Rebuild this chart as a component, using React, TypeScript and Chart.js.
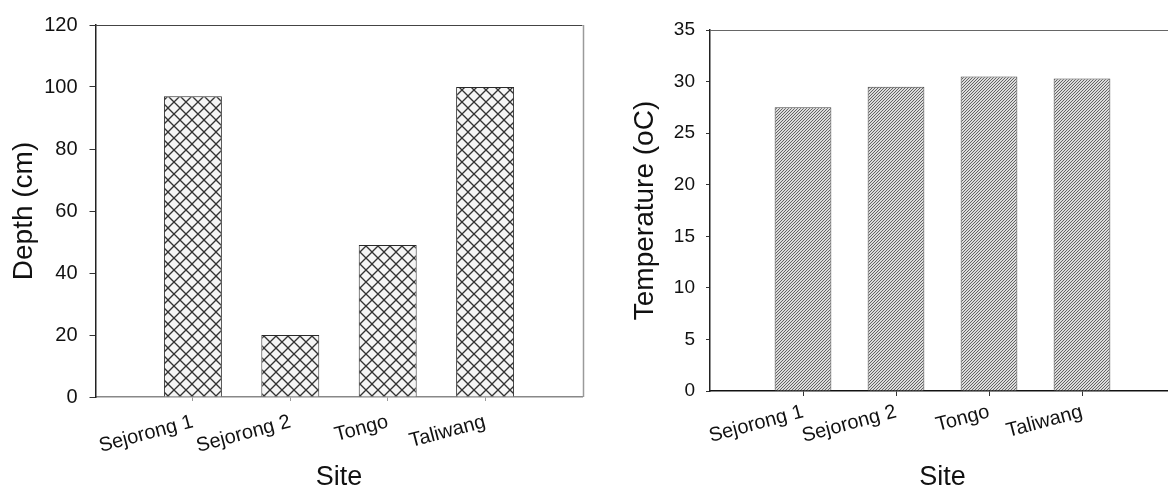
import React, { useEffect, useRef } from "react";
import { Chart, registerables } from "chart.js";

Chart.register(...registerables);

const sites = ["Sejorong 1", "Sejorong 2", "Tongo", "Taliwang"];
const depthValues = [97, 20, 49, 100];
const temperatureValues = [27.5, 29.5, 30.5, 30.3];
const depthTicks = [0, 20, 40, 60, 80, 100, 120];
const temperatureTicks = [0, 5, 10, 15, 20, 25, 30, 35];

const FONT = "'Liberation Sans', Arial, sans-serif";

function crossHatch(): CanvasPattern | string {
  const c = document.createElement("canvas");
  const s = 12;
  c.width = s;
  c.height = s;
  const g = c.getContext("2d");
  if (!g) return "#fff";
  g.fillStyle = "#f5f5f5";
  g.fillRect(0, 0, s, s);
  g.strokeStyle = "#333";
  g.lineWidth = 1.3;
  for (const o of [-s, 0, s]) {
    g.beginPath();
    g.moveTo(o, 0);
    g.lineTo(o + s, s);
    g.stroke();
    g.beginPath();
    g.moveTo(o, s);
    g.lineTo(o + s, 0);
    g.stroke();
  }
  return g.createPattern(c, "repeat") || "#fff";
}

function diagHatch(): CanvasPattern | string {
  const c = document.createElement("canvas");
  const s = 3;
  c.width = s;
  c.height = s;
  const g = c.getContext("2d");
  if (!g) return "#aaa";
  g.fillStyle = "#dcdcdc";
  g.fillRect(0, 0, s, s);
  g.strokeStyle = "#555";
  g.lineWidth = 0.9;
  for (const o of [-s, 0, s]) {
    g.beginPath();
    g.moveTo(o, s);
    g.lineTo(o + s, 0);
    g.stroke();
  }
  return g.createPattern(c, "repeat") || "#aaa";
}

function framePlugin(topColor: string, rightColor: string | null) {
  return {
    id: "frame",
    afterDatasetsDraw(chart: any) {
      const { ctx, chartArea } = chart;
      ctx.save();
      ctx.lineWidth = 1;
      ctx.strokeStyle = topColor;
      ctx.beginPath();
      ctx.moveTo(chartArea.left, Math.round(chartArea.top) + 0.5);
      ctx.lineTo(chartArea.right, Math.round(chartArea.top) + 0.5);
      ctx.stroke();
      if (rightColor) {
        ctx.strokeStyle = rightColor;
        ctx.lineWidth = 1.5;
        ctx.beginPath();
        ctx.moveTo(Math.round(chartArea.right) + 0.5, chartArea.top);
        ctx.lineTo(Math.round(chartArea.right) + 0.5, chartArea.bottom);
        ctx.stroke();
      }
      ctx.restore();
    },
  };
}

function makeConfig(opts: {
  values: number[];
  ticks: number[];
  yTitle: string;
  fill: any;
  border: string;
  barPct: number;
  pad: { top: number; right: number };
  yWidth: number;
  xHeight: number;
  yTitlePad: number;
  yTickFont: number;
  yTickLen: number;
  yTickPad: number;
  xTickLen: number;
  xTickPad: number;
  xAxisColor: string;
  xTickColor: string;
  frame: any;
}): any {
  const labels = ["", ...sites, ""];
  const data = [null, ...opts.values, null];
  const n = labels.length;
  return {
    type: "bar",
    data: {
      labels,
      datasets: [
        {
          data,
          backgroundColor: opts.fill,
          borderColor: opts.border,
          borderWidth: 1,
          borderSkipped: "bottom",
          categoryPercentage: 1,
          barPercentage: opts.barPct,
        },
      ],
    },
    plugins: [opts.frame],
    options: {
      responsive: false,
      animation: false,
      devicePixelRatio: 1,
      layout: { padding: { top: opts.pad.top, right: opts.pad.right, left: 0, bottom: 0 } },
      plugins: { legend: { display: false }, tooltip: { enabled: false } },
      scales: {
        x: {
          type: "category",
          offset: false,
          grid: {
            offset: false,
            drawOnChartArea: false,
            drawTicks: true,
            tickLength: opts.xTickLen,
            color: (c: any) => (c.index === 0 || c.index === n - 1 ? "rgba(0,0,0,0)" : opts.xTickColor),
          },
          border: { display: true, color: opts.xAxisColor, width: 1.5 },
          ticks: {
            autoSkip: false,
            maxRotation: 15,
            minRotation: 15,
            padding: opts.xTickPad,
            color: "#111",
            font: { family: FONT, size: 20 },
          },
          title: {
            display: true,
            text: "Site",
            color: "#111",
            font: { family: FONT, size: 27, lineHeight: 1 },
            padding: { top: 0, bottom: 0 },
          },
          afterFit: (s: any) => {
            s.height = opts.xHeight;
          },
        },
        y: {
          type: "linear",
          min: opts.ticks[0],
          max: opts.ticks[opts.ticks.length - 1],
          afterBuildTicks: (s: any) => {
            s.ticks = opts.ticks.map((v) => ({ value: v }));
          },
          grid: {
            drawOnChartArea: false,
            drawTicks: true,
            tickLength: opts.yTickLen,
            color: "#333",
          },
          border: { display: true, color: "#222", width: 1.5 },
          ticks: {
            padding: opts.yTickPad,
            color: "#111",
            font: { family: FONT, size: opts.yTickFont },
          },
          title: {
            display: true,
            text: opts.yTitle,
            color: "#111",
            font: { family: FONT, size: 28, lineHeight: 1.2 },
            padding: { top: opts.yTitlePad, bottom: 0 },
          },
          afterFit: (s: any) => {
            s.width = opts.yWidth;
          },
        },
      },
    },
  };
}

export default function App() {
  const leftRef = useRef<HTMLCanvasElement>(null);
  const rightRef = useRef<HTMLCanvasElement>(null);

  useEffect(() => {
    if (!leftRef.current || !rightRef.current) return;
    const left = new Chart(
      leftRef.current,
      makeConfig({
        values: depthValues,
        ticks: depthTicks,
        yTitle: "Depth (cm)",
        fill: crossHatch(),
        border: "#2a2a2a",
        barPct: 0.595,
        pad: { top: 25, right: 17.5 },
        yWidth: 95.5,
        xHeight: 94,
        yTitlePad: 7,
        yTickFont: 20,
        yTickLen: 6,
        yTickPad: 12,
        xTickLen: 4,
        xTickPad: 9,
        xAxisColor: "#888",
        xTickColor: "#999",
        frame: framePlugin("#444", "#9a9a9a"),
      })
    );
    const right = new Chart(
      rightRef.current,
      makeConfig({
        values: temperatureValues,
        ticks: temperatureTicks,
        yTitle: "Temperature (oC)",
        fill: diagHatch(),
        border: "#444",
        barPct: 0.61,
        pad: { top: 30, right: 25 },
        yWidth: 110,
        xHeight: 100,
        yTitlePad: 28,
        yTickFont: 19,
        yTickLen: 4,
        yTickPad: 11,
        xTickLen: 5,
        xTickPad: 4,
        xAxisColor: "#111",
        xTickColor: "#333",
        frame: framePlugin("#666", null),
      })
    );
    return () => {
      left.destroy();
      right.destroy();
    };
  }, []);

  return (
    <div
      style={{
        position: "absolute",
        left: 0,
        top: 0,
        width: 1168,
        height: 491,
        overflow: "hidden",
        background: "#fff",
      }}
    >
      <canvas
        ref={leftRef}
        width={600}
        height={491}
        style={{ position: "absolute", left: 0, top: 0, width: 600, height: 491 }}
      />
      <canvas
        ref={rightRef}
        width={600}
        height={491}
        style={{ position: "absolute", left: 600, top: 0, width: 600, height: 491 }}
      />
    </div>
  );
}
